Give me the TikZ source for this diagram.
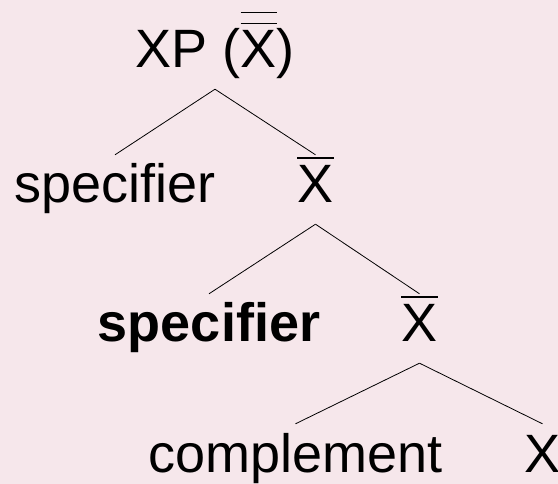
\documentclass[tikz,border=0pt]{standalone}
\usepackage{fontspec}
\setmainfont{Liberation Sans}
\definecolor{bgpink}{RGB}{246,231,235}
\newcommand{\onebar}[1]{\vbox{\hrule height 1.8pt\kern 7pt\hbox{#1}}}
\newcommand{\twobar}[1]{\vbox{\hrule height 1.8pt\kern 9.2pt\hrule height 1.8pt\kern 6.4pt\hbox{#1}}}
\tikzset{
  word/.style={anchor=base, inner xsep=0pt, inner ysep=8pt, text height=40pt, text depth=13pt,
    font=\fontsize{54pt}{60pt}\selectfont},
  branch/.style={line width=0.8pt}
}

\begin{document}
\begin{tikzpicture}[x=1pt, y=-1pt]
    \useasboundingbox (0,0) rectangle (558,484);
    \fill[bgpink] (0,0) rectangle (558,484);
    \node[word] (xp) at (215,68) {XP (\twobar{X})};
    \node[word] (spec) at (115,203) {specifier};
    \node[word] (xbar) at (315.5,203) {\onebar{X}};
    \node[word] (specb) at (209,342) {\bfseries specifier};
    \node[word] (xbarb) at (419.5,342) {\onebar{X}};
    \node[word] (comp) at (295.5,472) {complement};
    \node[word] (head) at (542.5,472) {X};
    \draw[branch] (xp.south) -- (spec.north);
    \draw[branch] (xp.south) -- (xbar.north);
    \draw[branch] (xbar.south) -- (specb.north);
    \draw[branch] (xbar.south) -- (xbarb.north);
    \draw[branch] (xbarb.south) -- (comp.north);
    \draw[branch] (xbarb.south) -- (head.north);
\end{tikzpicture}
\end{document}
